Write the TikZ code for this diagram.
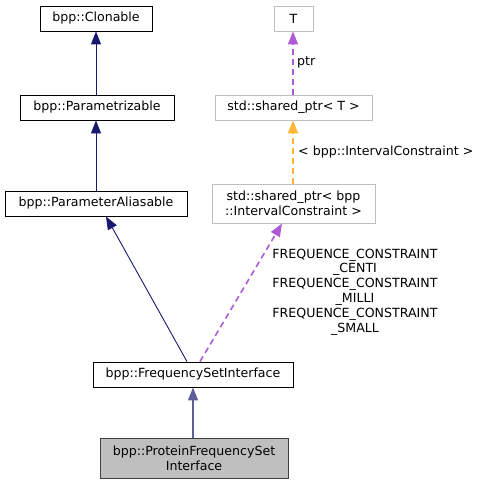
\documentclass[tikz,border=0pt]{standalone}
\usepackage{fontspec}
\setmainfont{DejaVu Sans}
\usetikzlibrary{arrows.meta}
\definecolor{edgeblue}{HTML}{191970}
\definecolor{orchid}{HTML}{9A32CD}
\definecolor{orng}{HTML}{FFA500}
\definecolor{greybox}{HTML}{BFBFBF}
\definecolor{darkline}{HTML}{404040}
\tikzset{
  fnt/.style={font=\fontsize{12.6}{15}\selectfont},
  cls/.style={draw=black, line width=0.9pt, fill=white, inner sep=0pt, fnt, align=center, text=black},
  tmpl/.style={draw=greybox, line width=0.9pt, fill=white, inner sep=0pt, fnt, align=center, text=black},
  cur/.style={draw=darkline, line width=0.9pt, fill=greybox, inner sep=0pt, fnt, align=center, text=black},
  tipx/.style={-{Triangle[length=13pt,width=10pt]}},
  inh/.style={draw=edgeblue, line width=0.9pt, tipx},
  inhl/.style={draw=edgeblue!70!white, line width=1.4pt, tipx},
  use/.style={draw=orchid!80!white, line width=1.6pt, dash pattern=on 6pt off 4pt, tipx},
  tmp/.style={draw=orng!80!white, line width=1.6pt, dash pattern=on 6pt off 4pt, tipx},
  lbl/.style={fnt, inner sep=0pt, text=black},
}
\begin{document}
\begin{tikzpicture}[x=1pt,y=-1pt]
\useasboundingbox (0,0) rectangle (483,484);
\node[cls, minimum width=112pt, minimum height=25pt] (clon) at (96,18.5) {bpp::Clonable};
\node[cls, minimum width=154pt, minimum height=25pt] (par) at (97,107.5) {bpp::Parametrizable};
\node[cls, minimum width=182pt, minimum height=25pt] (pa) at (96,203.5) {bpp::ParameterAliasable};
\node[tmpl, minimum width=39pt, minimum height=25pt] (T) at (293.5,18.5) {T};
\node[tmpl, minimum width=157pt, minimum height=25pt] (spt) at (293.5,107.5) {std::shared\_ptr< T >};
\node[tmpl, minimum width=163pt, minimum height=39pt] (spic) at (293.5,203.5) {std::shared\_ptr< bpp\\::IntervalConstraint >};
\node[cls, minimum width=200pt, minimum height=25pt] (fsi) at (193,374.5) {bpp::FrequencySetInterface};
\node[cur, minimum width=188pt, minimum height=40pt] (pfsi) at (194,458) {bpp::ProteinFrequencySet\\Interface};

\draw[inh] (par.north -| clon.south) -- (clon.south);
\draw[inh] (pa.north) -- (par.south -| pa.north);
\draw[inh] ([xshift=-6pt]fsi.north) -- ([xshift=10pt]pa.south);
\draw[inhl] (pfsi.north -| fsi.south) -- (fsi.south);
\draw[use] ([xshift=7pt]fsi.north) -- ([xshift=-11.5pt]spic.south);
\draw[tmp] ([xshift=-0.5pt]spic.north) -- ([xshift=-0.5pt]spt.south);
\draw[use] ([xshift=-0.5pt]spt.north) -- ([xshift=-0.5pt]T.south);

\node[lbl, anchor=west] (lptr) at (297,62) {ptr};
\node[lbl, anchor=west] (lic) at (298,152) {< bpp::IntervalConstraint >};
\node[lbl, align=center, font=\fontsize{12.6}{14.8}\selectfont] (lfc) at (355,292) {FREQUENCE\_CONSTRAINT\\\_CENTI\\FREQUENCE\_CONSTRAINT\\\_MILLI\\FREQUENCE\_CONSTRAINT\\\_SMALL};
\end{tikzpicture}
\end{document}
